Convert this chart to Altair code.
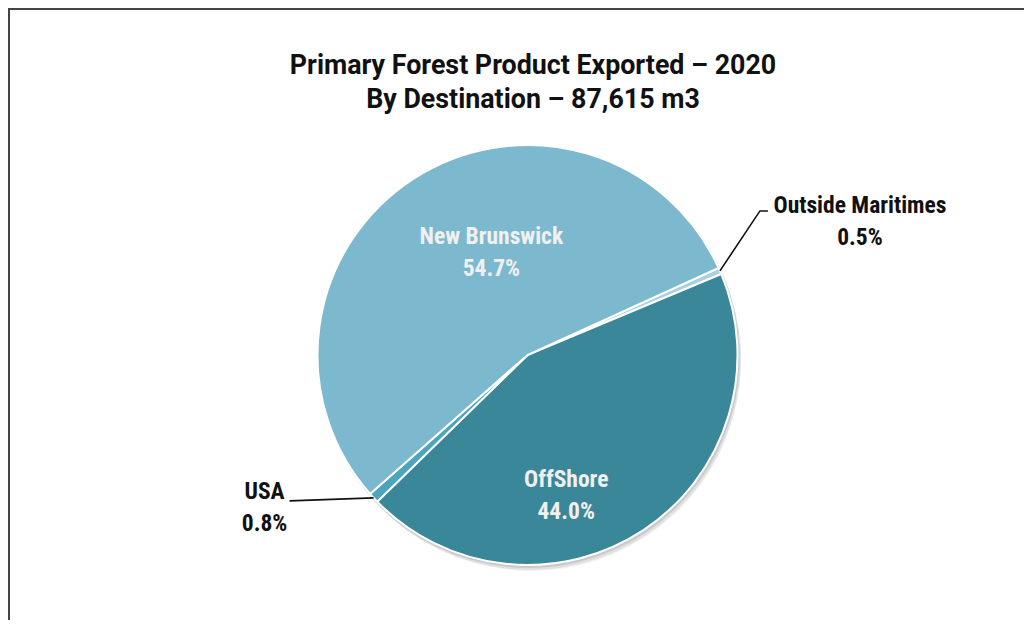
import math
import altair as alt
import pandas as pd

# ---- data ----
categories = ["Outside Maritimes", "OffShore", "USA", "New Brunswick"]
percents = [0.5, 44.0, 0.8, 54.7]
pct_labels = ["0.5%", "44.0%", "0.8%", "54.7%"]
colors = ["#a9d2de", "#3a8799", "#4ba5bd", "#7db9ce"]
title_lines = ["Primary Forest Product Exported \u2013 2020", "By Destination \u2013 87,615 m3"]

# ---- layout ----
W, H = 1016, 612
CX, CY = 519.5, 347
R = 210
START = math.radians(65.5)
LABEL_FONT = "'Liberation Sans Narrow', 'Roboto Condensed', Roboto, sans-serif"

df = pd.DataFrame({
    "cat": categories,
    "pct": percents,
    "plabel": pct_labels,
    "idx": list(range(len(categories))),
})

theta = alt.Theta("pct:Q", stack=True,
                  scale=alt.Scale(domain=[0, 100], range=[START, START + 2 * math.pi]))
order = alt.Order("idx:Q")
base = alt.Chart(df)

layers = []
# soft shadow
for off, rr, op in [(2, 211, 0.10), (4, 211, 0.07), (6, 210, 0.05)]:
    layers.append(base.mark_arc(outerRadius=rr, color="#000000", opacity=op).encode(
        theta=theta, order=order, x=alt.value(CX + off * 0.6), y=alt.value(CY + off)))

pie = base.mark_arc(outerRadius=R, stroke="white", strokeWidth=2).encode(
    theta=theta, order=order,
    color=alt.Color("cat:N", scale=alt.Scale(domain=categories, range=colors), legend=None),
    x=alt.value(CX), y=alt.value(CY))
layers.append(pie)


def label(cat, field, radius, dx, dy, color):
    return base.mark_text(radius=radius, dx=dx, dy=dy, font=LABEL_FONT, fontSize=23.5,
                          fontWeight="bold", color=color, align="center", baseline="middle").encode(
        theta=theta, order=order, x=alt.value(CX), y=alt.value(CY),
        text=alt.condition(alt.datum.cat == cat, alt.Text(field), alt.value("")))


inner = "#f0f0f0"
layers += [
    label("New Brunswick", "cat:N", 105, 21, -30, inner),
    label("New Brunswick", "plabel:N", 105, 21, 2, inner),
    label("OffShore", "cat:N", 139, -38, 9, inner),
    label("OffShore", "plabel:N", 139, -38, 41, inner),
    label("Outside Maritimes", "cat:N", R, 140, -65, "#111111"),
    label("Outside Maritimes", "plabel:N", R, 140, -33, "#111111"),
    label("USA", "cat:N", R, -109, -6, "#111111"),
    label("USA", "plabel:N", R, -109, 26, "#111111"),
]

# leader lines from slice mid-angles
total = sum(percents)
cum = 0
mids = {}
for c, p in zip(categories, percents):
    mids[c] = START + 2 * math.pi * (cum + p / 2) / total
    cum += p


def edge(c):
    a = mids[c]
    return CX + R * math.sin(a), CY - R * math.cos(a)


ox, oy = edge("Outside Maritimes")
ux, uy = edge("USA")
lines = pd.DataFrame({
    "line": ["om", "om", "om", "usa", "usa"],
    "seq": [0, 1, 2, 0, 1],
    "x": [ox, ox + 40, ox + 48, ux, ux - 84],
    "y": [oy, oy - 60, oy - 60, uy, uy + 3],
})
layers.append(alt.Chart(lines).mark_line(color="#111111", strokeWidth=1.6).encode(
    x=alt.X("x:Q", scale=None), y=alt.Y("y:Q", scale=None),
    detail="line:N", order="seq:Q"))

# title
for i, (t, ty) in enumerate(zip(title_lines, [57.5, 91.5])):
    layers.append(alt.Chart(pd.DataFrame({"t": [t]})).mark_text(
        font="Roboto", fontSize=26.8, fontWeight="bold", color="#111111",
        align="center", baseline="middle").encode(
        text="t:N", x=alt.value(525), y=alt.value(ty)))

# frame (top and left edges visible)
frame = pd.DataFrame({"a": [0]})
layers.append(alt.Chart(frame).mark_rule(color="#444444", strokeWidth=2).encode(
    x=alt.value(1), y=alt.value(0), y2=alt.value(H)))
layers.append(alt.Chart(frame).mark_rule(color="#444444", strokeWidth=2).encode(
    x=alt.value(0), x2=alt.value(W), y=alt.value(1)))

chart = alt.layer(*layers).properties(
    width=W, height=H, autosize=alt.AutoSizeParams(type="none"), padding=0
).configure_view(stroke=None)

chart.save("out.html", embed_options={"renderer": "svg", "actions": False})
